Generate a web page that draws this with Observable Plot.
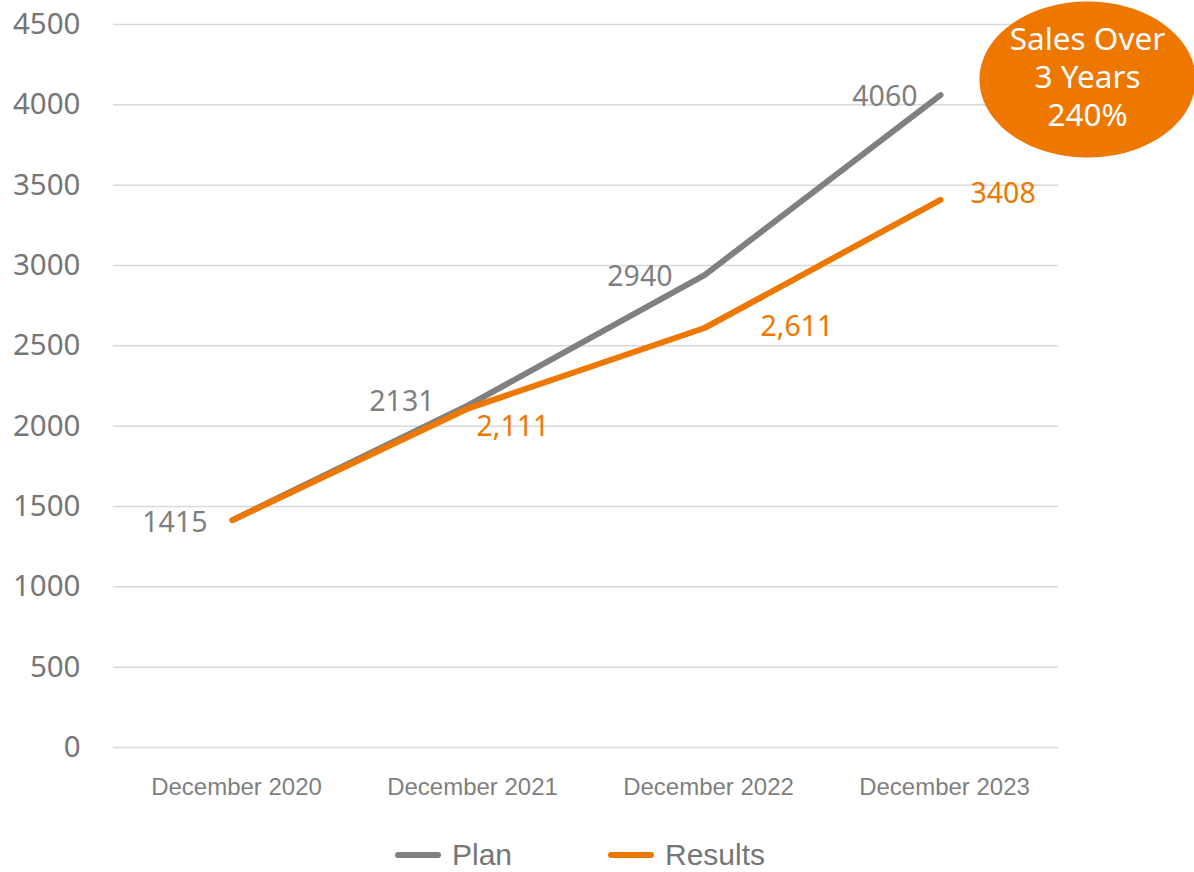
<!DOCTYPE html>
<html>
<head>
<meta charset="utf-8">
<script src="https://cdn.jsdelivr.net/npm/d3@7"></script>
<script src="https://cdn.jsdelivr.net/npm/@observablehq/plot@0.6"></script>
<style>
  body { margin: 0; background: #fff; }
  #legend { display: flex; justify-content: center; align-items: center; width: 1194px; box-sizing: border-box; padding-right: 34px; height: 46px; margin-top: 22px; font-family: "Liberation Sans", Arial, sans-serif; font-size: 30px; line-height: 36px; color: #767676; }
  .item { display: flex; align-items: center; }
  .sw { width: 46px; height: 6px; border-radius: 3px; margin-right: 11px; }
</style>
</head>
<body>
<div id="chart"></div>
<div id="legend"></div>
<script>
const categories = ["December 2020", "December 2021", "December 2022", "December 2023"];
const plan = [1415, 2131, 2940, 4060];
const results = [1415, 2111, 2611, 3408];
const planLabels = ["1415", "2131", "2940", "4060"];
const resultLabels = [null, "2,111", "2,611", "3408"];
const yTicks = [0, 500, 1000, 1500, 2000, 2500, 3000, 3500, 4000, 4500];
const seriesNames = ["Plan", "Results"];
const calloutText = "Sales Over\n3 Years\n240%";
const calloutValue = 4500;

const GRAY = "#808080", ORANGE = "#EE7700";
// label offsets (styling: pixels from each point)
const planOffsets = [[-25, 3], [-34, -3], [-32, 2], [-23, 2]];
const resultOffsets = [null, [8, 19], [56, -1], [30, -6]];

const planData = categories.map((c, i) => ({c, v: plan[i], label: planLabels[i]}));
const resultData = categories.map((c, i) => ({c, v: results[i], label: resultLabels[i]}));

const k = 0.5522847;
const ellipseSymbol = {
  draw(ctx, size) {
    const ry = Math.sqrt(size / Math.PI), rx = ry * 1.385;
    ctx.moveTo(rx, 0);
    ctx.bezierCurveTo(rx, ry * k, rx * k, ry, 0, ry);
    ctx.bezierCurveTo(-rx * k, ry, -rx, ry * k, -rx, 0);
    ctx.bezierCurveTo(-rx, -ry * k, -rx * k, -ry, 0, -ry);
    ctx.bezierCurveTo(rx * k, -ry, rx, -ry * k, rx, 0);
    ctx.closePath();
  }
};

const labelMarks = [];
planData.forEach((d, i) => {
  labelMarks.push(Plot.text([d], {x: "c", y: "v", text: "label", textAnchor: "end",
    dx: planOffsets[i][0], dy: planOffsets[i][1], fill: "#7f7f7f", fontSize: 28.5}));
});
resultData.forEach((d, i) => {
  if (!d.label) return;
  labelMarks.push(Plot.text([d], {x: "c", y: "v", text: "label", textAnchor: "start",
    dx: resultOffsets[i][0], dy: resultOffsets[i][1], fill: ORANGE, fontSize: 28.5}));
});

const callout = [{c: categories[3], v: calloutValue, text: calloutText}];

const chart = Plot.plot({
  width: 1194,
  height: 810,
  marginLeft: 113,
  marginRight: 136,
  marginTop: 24,
  marginBottom: 63,
  style: {fontFamily: "'Noto Sans', sans-serif", background: "#fff", overflow: "visible"},
  x: {type: "point", domain: categories, padding: 0.5},
  y: {domain: [0, 4500]},
  marks: [
    Plot.gridY(yTicks, {stroke: "#d9d9d9", strokeOpacity: 1, strokeWidth: 1.5}),
    Plot.axisY(yTicks, {tickSize: 0, tickPadding: 33, fontSize: 29.5, tickFormat: d3.format("d"), color: "#767676", fill: "#767676", label: null}),
    Plot.axisX({tickSize: 0, tickPadding: 30, fontSize: 24, fontFamily: "'Liberation Sans', Arial, sans-serif", color: "#7f7f7f", fill: "#7f7f7f", dx: 4, label: null}),
    Plot.line(planData, {x: "c", y: "v", stroke: GRAY, strokeWidth: 6, strokeLinecap: "round", strokeLinejoin: "round"}),
    Plot.line(resultData, {x: "c", y: "v", stroke: ORANGE, strokeWidth: 6, strokeLinecap: "round", strokeLinejoin: "round"}),
    ...labelMarks,
    Plot.dot(callout, {x: "c", y: "v", r: 78, symbol: ellipseSymbol, fill: ORANGE, stroke: null, dx: 147, dy: 55}),
    Plot.text(callout, {x: "c", y: "v", text: "text", fill: "#fff", fontSize: 31.5, lineHeight: 1.206, textAnchor: "middle", lineAnchor: "middle", dx: 147, dy: 51})
  ]
});
document.getElementById("chart").appendChild(chart);

const legend = document.getElementById("legend");
const colors = [GRAY, ORANGE];
seriesNames.forEach((n, i) => {
  const it = document.createElement("div");
  it.className = "item";
  if (i > 0) it.style.marginLeft = "96px";
  const sw = document.createElement("div");
  sw.className = "sw";
  sw.style.background = colors[i];
  const t = document.createElement("span");
  t.textContent = n;
  it.appendChild(sw); it.appendChild(t);
  legend.appendChild(it);
});
</script>
</body>
</html>
